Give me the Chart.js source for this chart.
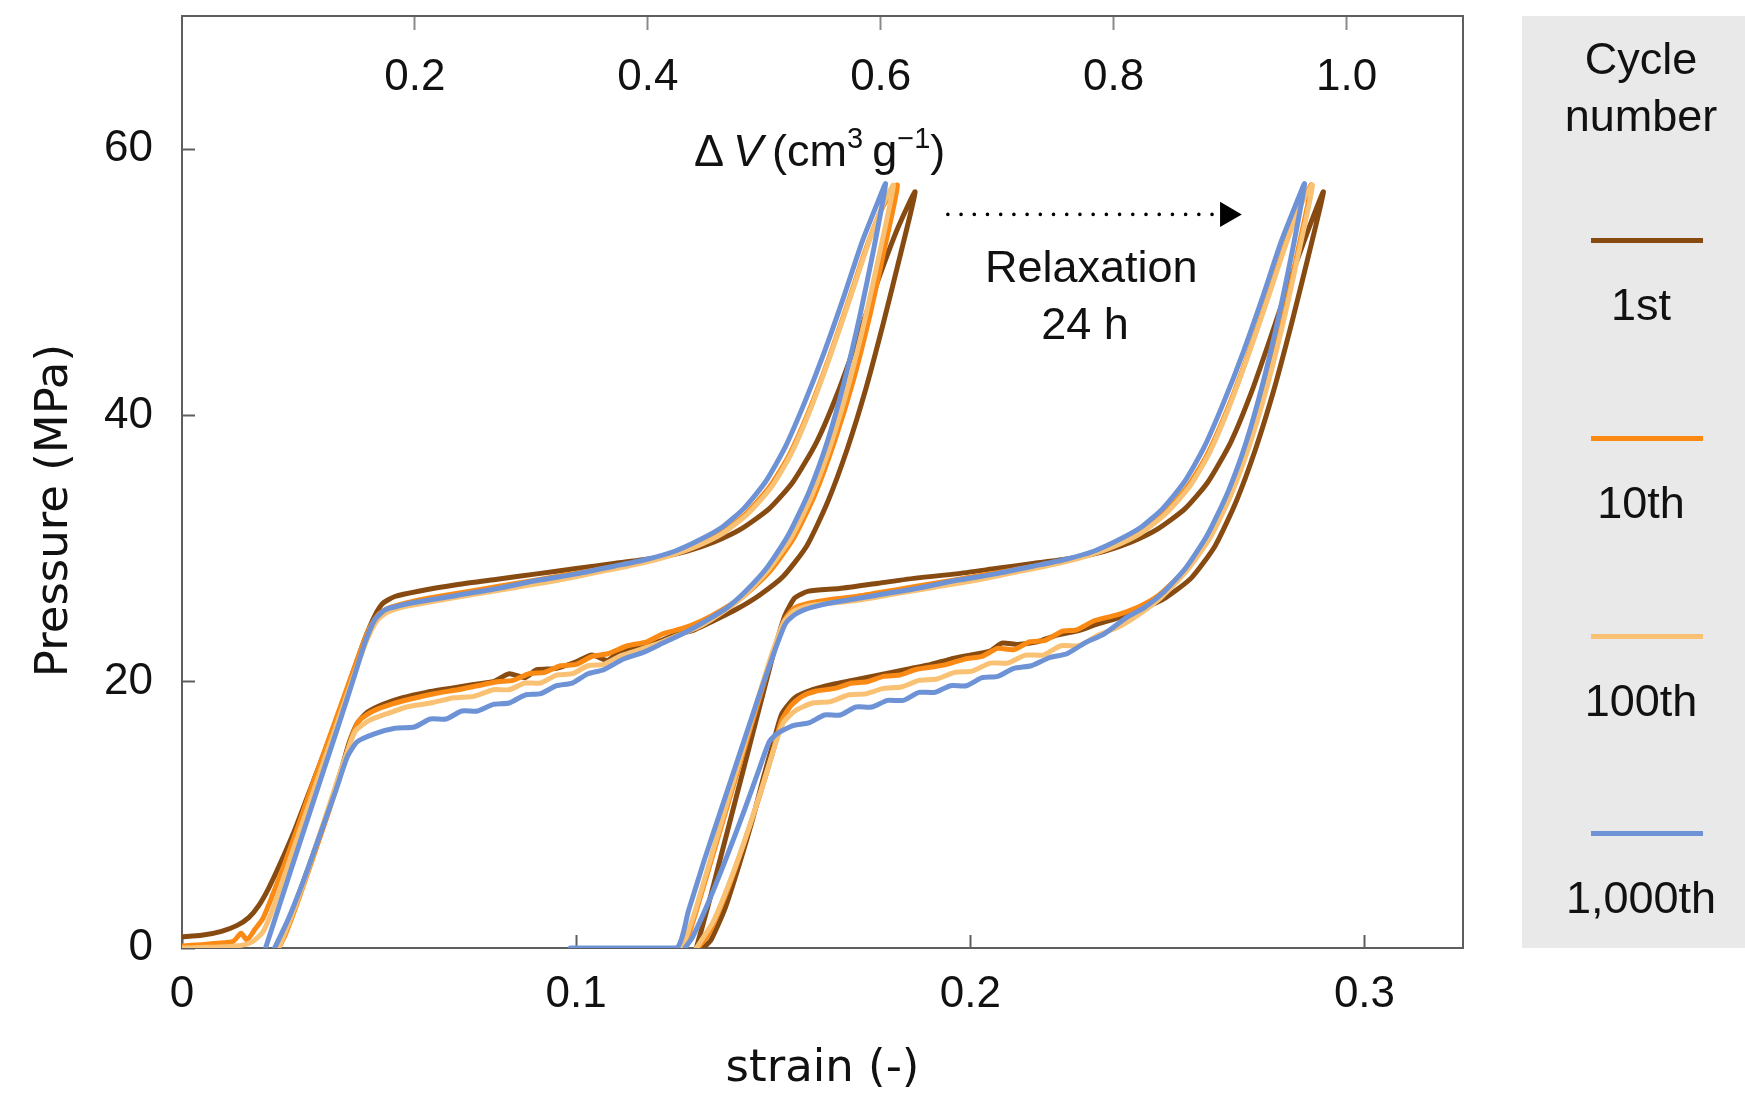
<!DOCTYPE html>
<html>
<head>
<meta charset="utf-8">
<script src="https://cdn.jsdelivr.net/npm/chart.js@4.4.1/dist/chart.umd.min.js"></script>
<style>
  html, body { margin: 0; padding: 0; background: #ffffff; overflow: hidden; }
  #wrap { position: relative; width: 1745px; height: 1106px; }
  #c { position: absolute; left: 0; top: 0; }
  .txt { position: absolute; font-family: 'Liberation Sans', Arial, Helvetica, sans-serif; color: #111; white-space: nowrap; }
  #legendBox { position: absolute; left: 1522px; top: 16px; width: 223px; height: 932px; background: #e9e9e9; }
  .legLine { position: absolute; left: 1591px; width: 112px; height: 5px; }
  .legTxt { left: 1521px; width: 240px; text-align: center; font-size: 45px; line-height: 57px; }
  #dv { left: 694px; top: 128px; font-size: 45px; line-height: 45px; }
  #dv sup { font-size: 29px; vertical-align: 0; position: relative; top: -18px; }
  #relax { left: 985px; top: 239px; width: 200px; text-align: center; font-size: 45px; line-height: 56.6px; }
</style>
</head>
<body>
<div id="wrap">
  <div id="legendBox"></div>
  <canvas id="c" width="1745" height="1106"></canvas>
  <div id="dv" class="txt">&Delta;&#8201;<i>V</i>&#8201;(cm<sup>3</sup>&#8201;g<sup>&minus;1</sup>)</div>
  <div id="relax" class="txt">Relaxation<br>24 h</div>
</div>
<script>
// ---------------- data ----------------
const cycleNames = ['1st', '10th', '100th', '1,000th'];

const strainTicks = [0, 0.1, 0.2, 0.3];
const strainTickLabels = ['0', '0.1', '0.2', '0.3'];
const volumeTicks = [0.2, 0.4, 0.6, 0.8, 1.0];
const volumeTickLabels = ['0.2', '0.4', '0.6', '0.8', '1.0'];
const pressureTicks = [0, 20, 40, 60];
const pressureTickLabels = ['0', '20', '40', '60'];

// axis ranges: strain (-), pressure (MPa), ΔV (cm3/g)
const strainRange = [0, 0.325];
const pressureRange = [0, 70];
const volumeRange = [0, 1.1];

// [strain, pressure] before relaxation (loop A) and after 24 h relaxation (loop B)
const cycle1Before = [[0,0.85],[0.005,0.95],[0.01,1.25],[0.014,1.7],[0.017,2.3],[0.0195,3.2],[0.022,4.5],[0.025,6.4],[0.0285,8.8],[0.032,11.5],[0.036,14.6],[0.04,17.8],[0.0435,20.8],[0.0465,23.3],[0.049,25.0],[0.051,25.9],[0.054,26.4],[0.06,26.8],[0.07,27.3],[0.08,27.7],[0.09,28.1],[0.1,28.5],[0.11,28.9],[0.12,29.3],[0.128,29.8],[0.135,30.5],[0.142,31.5],[0.149,33.0],[0.155,35.0],[0.161,38.0],[0.1665,41.8],[0.172,46.3],[0.177,50.5],[0.1815,54.0],[0.186,56.8],
  [0.1822,52.0],[0.178,47.0],[0.1735,42.0],[0.1688,37.5],[0.1638,33.5],[0.1585,30.2],[0.1525,27.9],[0.1465,26.5],[0.141,25.5],[0.135,24.6],[0.13,23.9],[0.125,23.5],[0.12,22.9],[0.115,22.5],[0.111,22.3],[0.108,21.6],[0.104,22.0],[0.1,21.5],[0.095,21.0],[0.09,20.9],[0.087,20.3],[0.083,20.6],[0.079,20.0],[0.074,19.8],[0.068,19.5],[0.062,19.2],[0.056,18.8],[0.051,18.3],[0.047,17.7],[0.0445,16.9],[0.0425,15.5],[0.0405,13.5],[0.037,10.2],[0.033,6.8],[0.029,3.5],[0.026,1.2],[0.0245,0]];
const cycle1After = [[0.1305,0],[0.1335,3.2],[0.137,7.2],[0.1405,11.2],[0.144,15.2],[0.1475,19.2],[0.1505,22.6],[0.153,25.0],[0.1555,26.3],[0.159,26.8],[0.1668,27.0],[0.1767,27.4],[0.1866,27.8],[0.1965,28.1],[0.2064,28.5],[0.2163,28.9],[0.2262,29.3],[0.234,29.8],[0.2409,30.5],[0.2477,31.5],[0.2545,33.0],[0.2603,35.0],[0.2661,38.0],[0.2714,41.8],[0.2767,46.3],[0.2815,50.5],[0.2858,54.0],[0.2896,56.8],
  [0.2858,52.0],[0.2816,47.0],[0.2771,42.0],[0.2724,37.5],[0.2674,33.5],[0.2621,30.2],[0.2561,27.8],[0.2495,26.3],[0.243,25.4],[0.2375,24.8],[0.232,24.3],[0.227,23.8],[0.222,23.5],[0.217,23.0],[0.212,22.8],[0.208,22.9],[0.205,22.3],[0.2,22.0],[0.195,21.7],[0.19,21.3],[0.185,21.0],[0.18,20.7],[0.175,20.4],[0.17,20.1],[0.165,19.8],[0.16,19.4],[0.1555,18.8],[0.1522,17.6],[0.15,15.4],[0.1475,12.8],[0.1447,9.6],[0.1413,6.2],[0.1378,3.0],[0.1342,0.6],[0.1322,0]];

const cycle10Before = [[0,0.15],[0.005,0.25],[0.009,0.35],[0.013,0.5],[0.015,1.1],[0.0165,0.6],[0.0185,1.4],[0.0205,2.2],[0.023,4.0],[0.026,6.3],[0.0295,9.2],[0.033,12.2],[0.037,15.5],[0.041,18.8],[0.0445,21.7],[0.0475,24.0],[0.05,25.1],[0.053,25.6],[0.058,26.0],[0.065,26.4],[0.075,26.9],[0.085,27.4],[0.095,27.9],[0.105,28.4],[0.115,28.9],[0.123,29.5],[0.13,30.2],[0.137,31.2],[0.143,32.6],[0.149,34.6],[0.154,37.0],[0.159,40.3],[0.164,44.2],[0.169,48.5],[0.1735,52.5],[0.1775,55.5],[0.1815,57.3],
  [0.1782,52.5],[0.1745,47.5],[0.1702,42.5],[0.1655,38.0],[0.1605,34.0],[0.1552,30.8],[0.1492,28.3],[0.1428,26.5],[0.137,25.4],[0.132,24.6],[0.127,24.0],[0.122,23.6],[0.118,23.0],[0.113,22.7],[0.108,22.1],[0.104,21.9],[0.1,21.3],[0.096,21.2],[0.092,20.7],[0.088,20.6],[0.084,20.1],[0.08,20.0],[0.075,19.7],[0.07,19.4],[0.064,19.1],[0.058,18.7],[0.053,18.3],[0.0485,17.8],[0.045,17.1],[0.043,15.8],[0.041,13.8],[0.0375,10.5],[0.0335,7.0],[0.0295,3.6],[0.0262,1.0],[0.0245,0]];
const cycle10After = [[0.1275,0],[0.1305,2.8],[0.1345,6.8],[0.1385,10.8],[0.1425,14.8],[0.1465,18.8],[0.15,22.2],[0.1528,24.6],[0.1552,25.5],[0.159,25.9],[0.165,26.2],[0.171,26.4],[0.181,26.9],[0.191,27.4],[0.201,27.9],[0.211,28.4],[0.221,28.9],[0.229,29.5],[0.236,30.2],[0.243,31.2],[0.249,32.6],[0.255,34.6],[0.26,37.0],[0.265,40.3],[0.27,44.2],[0.275,48.5],[0.2795,52.5],[0.2833,55.5],[0.2865,57.3],
  [0.2832,52.5],[0.2795,47.5],[0.2752,42.5],[0.2705,38.0],[0.2655,34.0],[0.2602,30.8],[0.2542,28.3],[0.2478,26.5],[0.2425,25.6],[0.237,25.0],[0.2316,24.6],[0.227,23.9],[0.2234,23.8],[0.219,23.1],[0.2151,23.0],[0.211,22.4],[0.2069,22.5],[0.203,21.9],[0.1986,21.7],[0.194,21.3],[0.1903,21.1],[0.186,20.9],[0.1821,20.5],[0.178,20.4],[0.1738,20.0],[0.17,19.9],[0.1656,19.5],[0.161,19.3],[0.1573,18.9],[0.1545,18.2],[0.152,17.0],[0.1498,14.6],[0.1463,11.2],[0.1425,7.8],[0.1382,4.2],[0.1335,1.0],[0.1308,0]];

const cycle100Before = [[0,0],[0.006,0.05],[0.011,0.1],[0.015,0.2],[0.018,0.5],[0.0205,1.2],[0.0225,2.5],[0.025,4.6],[0.028,7.2],[0.0315,10.2],[0.0355,13.6],[0.0395,17.0],[0.0435,20.4],[0.047,23.2],[0.0495,24.6],[0.052,25.2],[0.056,25.6],[0.065,26.1],[0.075,26.6],[0.085,27.1],[0.095,27.6],[0.105,28.2],[0.115,28.8],[0.123,29.4],[0.13,30.1],[0.137,31.1],[0.1435,32.6],[0.1495,34.6],[0.1545,37.1],[0.1595,40.5],[0.1645,44.5],[0.1695,48.8],[0.174,52.8],[0.1778,55.8],[0.1805,57.3],
  [0.1772,52.5],[0.1735,47.5],[0.1693,42.5],[0.1648,38.0],[0.1598,34.0],[0.1545,30.8],[0.1485,28.3],[0.142,26.3],[0.136,25.0],[0.131,24.1],[0.126,23.5],[0.121,22.9],[0.116,22.4],[0.111,21.9],[0.107,21.3],[0.103,21.2],[0.099,20.6],[0.095,20.5],[0.091,19.9],[0.087,19.9],[0.083,19.4],[0.079,19.4],[0.074,18.9],[0.069,18.8],[0.063,18.4],[0.057,18.1],[0.052,17.6],[0.0475,17.1],[0.044,16.3],[0.042,14.8],[0.039,12.2],[0.035,8.6],[0.031,5.0],[0.027,1.8],[0.0245,0]];
const cycle100After = [[0.127,0],[0.1302,2.8],[0.1342,6.8],[0.1382,10.8],[0.1422,14.8],[0.1462,18.8],[0.1498,22.2],[0.1527,24.5],[0.1552,25.3],[0.159,25.7],[0.171,26.1],[0.181,26.6],[0.191,27.1],[0.201,27.6],[0.211,28.2],[0.221,28.8],[0.229,29.4],[0.236,30.1],[0.243,31.1],[0.2495,32.6],[0.2555,34.6],[0.2605,37.1],[0.2655,40.5],[0.2705,44.5],[0.2755,48.8],[0.28,52.8],[0.2838,55.8],[0.2868,57.3],
  [0.2835,52.5],[0.2798,47.5],[0.2756,42.5],[0.2711,38.0],[0.2661,34.0],[0.2608,30.8],[0.2548,28.3],[0.2483,26.3],[0.2425,25.0],[0.2375,24.1],[0.2325,23.5],[0.2275,22.7],[0.223,22.7],[0.2185,22.0],[0.214,22.0],[0.2095,21.4],[0.205,21.4],[0.2005,20.8],[0.196,20.7],[0.1915,20.2],[0.187,20.1],[0.1825,19.6],[0.178,19.5],[0.1735,19.1],[0.169,19.0],[0.1645,18.5],[0.16,18.4],[0.1555,17.8],[0.1525,16.9],[0.1502,15.0],[0.1475,12.4],[0.1438,9.0],[0.1395,5.4],[0.1348,2.0],[0.1305,0]];

const cycle1000Before = [[0.0212,0],[0.0245,3.0],[0.028,6.2],[0.032,9.8],[0.036,13.4],[0.04,17.0],[0.0435,20.2],[0.0465,23.0],[0.049,24.7],[0.0515,25.4],[0.055,25.7],[0.06,26.0],[0.07,26.5],[0.08,27.0],[0.09,27.6],[0.1,28.1],[0.11,28.7],[0.118,29.2],[0.125,29.8],[0.131,30.6],[0.137,31.6],[0.1425,33.0],[0.148,35.0],[0.153,37.6],[0.158,41.0],[0.163,44.8],[0.168,49.0],[0.1725,53.0],[0.1765,56.0],[0.1785,57.4],
  [0.1755,52.5],[0.172,47.5],[0.168,42.5],[0.1637,38.0],[0.159,34.2],[0.1538,31.0],[0.1485,28.6],[0.143,26.8],[0.138,25.5],[0.1325,24.5],[0.127,23.6],[0.122,22.9],[0.117,22.2],[0.112,21.7],[0.107,20.9],[0.103,20.6],[0.099,19.9],[0.095,19.7],[0.091,19.1],[0.087,19.0],[0.083,18.4],[0.079,18.3],[0.075,17.8],[0.071,17.8],[0.067,17.2],[0.063,17.2],[0.059,16.6],[0.054,16.5],[0.049,16.1],[0.0445,15.5],[0.042,14.4],[0.039,11.8],[0.035,8.5],[0.031,5.2],[0.027,2.2],[0.0235,0]];
const cycle1000After = [[0.0985,0],[0.112,0],[0.1255,0],[0.1285,2.8],[0.1325,6.6],[0.137,10.6],[0.1415,14.6],[0.146,18.6],[0.15,22.0],[0.153,24.3],[0.1553,25.0],[0.1578,25.4],[0.1613,25.7],[0.1663,26.0],[0.1763,26.5],[0.1863,27.0],[0.1963,27.6],[0.2063,28.1],[0.2163,28.7],[0.2243,29.2],[0.2313,29.8],[0.2373,30.6],[0.2433,31.6],[0.2488,33.0],[0.2543,35.0],[0.2593,37.6],[0.2643,41.0],[0.2693,44.8],[0.2743,49.0],[0.2788,53.0],[0.2828,56.0],[0.2848,57.4],
  [0.2818,52.5],[0.2783,47.5],[0.2743,42.5],[0.27,38.0],[0.2653,34.2],[0.2601,31.0],[0.2548,28.6],[0.2493,26.8],[0.2443,25.6],[0.2395,24.8],[0.234,23.6],[0.229,22.9],[0.2245,22.1],[0.22,21.8],[0.2155,21.2],[0.211,21.0],[0.207,20.4],[0.203,20.3],[0.199,19.7],[0.195,19.7],[0.191,19.2],[0.187,19.2],[0.183,18.6],[0.179,18.6],[0.175,18.1],[0.171,18.1],[0.167,17.5],[0.163,17.5],[0.159,16.9],[0.155,16.7],[0.151,16.1],[0.149,15.5],[0.1465,13.5],[0.1425,10.2],[0.138,6.7],[0.1335,3.4],[0.1295,0.8],[0.1276,0]];

// relaxation arrow: from strain to strain at a fixed pressure
const relaxArrowStrain = [0.1943, 0.2652];
const relaxArrowPressure = 55.1;

// ---------------- styles ----------------
const cycleColors = ['#874a10', '#fb8a14', '#f9c173', '#6d93d6'];
const loopsBySeries = [
  [cycle1Before, cycle1After],
  [cycle10Before, cycle10After],
  [cycle100Before, cycle100After],
  [cycle1000Before, cycle1000After]
];
const drawOrder = [4, 3, 2, 1]; // blue drawn on top

const toXY = arr => arr.map(p => ({ x: p[0], y: p[1] }));

const datasets = [];
loopsBySeries.forEach((loops, i) => {
  loops.forEach((loop, j) => {
    datasets.push({
      label: cycleNames[i] + (j === 0 ? ' (before)' : ' (after 24 h)'),
      data: toXY(loop),
      showLine: true,
      borderColor: cycleColors[i],
      backgroundColor: cycleColors[i],
      borderWidth: 5,
      pointRadius: 0,
      tension: 0.2,
      borderJoinStyle: 'round',
      borderCapStyle: 'round',
      order: drawOrder[i]
    });
  });
});
datasets.push({
  label: 'Relaxation 24 h',
  data: relaxArrowStrain.map(s => ({ x: s, y: relaxArrowPressure })),
  showLine: true,
  borderColor: '#000',
  borderWidth: 3.6,
  borderDash: [0.01, 13.2],
  borderCapStyle: 'round',
  pointRadius: [0, 14.5],
  pointStyle: 'triangle',
  rotation: 90,
  pointBackgroundColor: '#000',
  pointBorderWidth: 0,
  order: 0
});

const tickFont = { family: "'Liberation Sans', Arial, sans-serif", size: 44 };
const titleFont = { family: "'DejaVu Sans', sans-serif", size: 45 };
const axisColor = '#5e5e5e';

const ticksFrom = (values) => (scale) => { scale.ticks = values.map(v => ({ value: v })); };
const labelFrom = (values, labels) => (v) => { const k = values.findIndex(t => Math.abs(t - v) < 1e-9); return k >= 0 ? labels[k] : ''; };
const noPad = (s) => { s.paddingTop = 0; s.paddingBottom = 0; s.paddingLeft = 0; s.paddingRight = 0; };

new Chart(document.getElementById('c'), {
  type: 'scatter',
  data: { datasets },
  options: {
    responsive: false,
    animation: false,
    events: [],
    layout: { padding: 0 },
    plugins: { legend: { display: false }, tooltip: { enabled: false }, title: { display: false } },
    scales: {
      x: {
        type: 'linear', position: 'bottom', min: strainRange[0], max: strainRange[1],
        afterBuildTicks: ticksFrom(strainTicks),
        afterFit: s => { s.height = 158; noPad(s); },
        ticks: { callback: labelFrom(strainTicks, strainTickLabels), font: tickFont, color: '#111', padding: 33, autoSkip: false, maxRotation: 0 },
        grid: { drawOnChartArea: false, drawTicks: true, tickLength: -13, tickWidth: 2, tickColor: axisColor },
        border: { display: true, color: axisColor, width: 2 },
        title: { display: true, text: 'strain (-)', font: titleFont, color: '#111', padding: { top: 0, bottom: 10 } }
      },
      x2: {
        type: 'linear', position: 'top', min: volumeRange[0], max: volumeRange[1],
        afterBuildTicks: ticksFrom(volumeTicks),
        afterFit: s => { s.height = 16; noPad(s); },
        ticks: { callback: labelFrom(volumeTicks, volumeTickLabels), font: tickFont, color: '#111', mirror: true, padding: 35, autoSkip: false, maxRotation: 0 },
        grid: { drawOnChartArea: false, drawTicks: true, tickLength: -14, tickWidth: 2, tickColor: '#8a8a8a' },
        border: { display: true, color: axisColor, width: 2 }
      },
      y: {
        type: 'linear', position: 'left', min: pressureRange[0], max: pressureRange[1],
        afterBuildTicks: ticksFrom(pressureTicks),
        afterFit: s => { s.width = 182; noPad(s); },
        ticks: { callback: labelFrom(pressureTicks, pressureTickLabels), font: tickFont, color: '#111', padding: 42, autoSkip: false },
        grid: { drawOnChartArea: false, drawTicks: true, tickLength: -13, tickWidth: 2, tickColor: axisColor },
        border: { display: true, color: axisColor, width: 2 },
        title: { display: true, text: 'Pressure (MPa)    ', font: titleFont, color: '#111', padding: { top: 28, bottom: 0 } }
      },
      y2: {
        type: 'linear', position: 'right', min: pressureRange[0], max: pressureRange[1],
        afterFit: s => { s.width = 282; noPad(s); },
        ticks: { display: false },
        grid: { drawOnChartArea: false, drawTicks: false },
        border: { display: true, color: axisColor, width: 2 }
      }
    }
  }
});

// ---------------- legend (HTML text) ----------------
const wrap = document.getElementById('wrap');
const head = document.createElement('div');
head.className = 'txt legTxt';
head.style.top = '30px';
head.innerHTML = 'Cycle<br>number';
wrap.appendChild(head);
const legendLineTops = [238, 436, 634, 831];
cycleNames.forEach((name, i) => {
  const ln = document.createElement('div');
  ln.className = 'legLine';
  ln.style.top = legendLineTops[i] + 'px';
  ln.style.background = cycleColors[i];
  wrap.appendChild(ln);
  const t = document.createElement('div');
  t.className = 'txt legTxt';
  t.style.top = (legendLineTops[i] + 38) + 'px';
  t.textContent = name;
  wrap.appendChild(t);
});
</script>
</body>
</html>
